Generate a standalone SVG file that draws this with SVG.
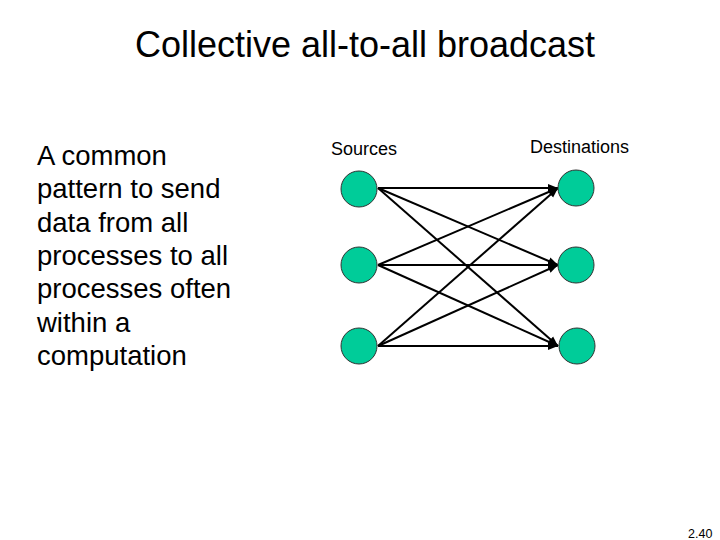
<svg xmlns="http://www.w3.org/2000/svg" width="720" height="540" viewBox="0 0 720 540">
<style>
text{font-family:"Liberation Sans",Arial,sans-serif;fill:#000}
.node{fill:#00cc99;stroke:#333;stroke-width:1}
.c line{stroke:#000;stroke-width:2;marker-end:url(#ah)}
</style>
<defs>
<marker id="ah" viewBox="0 0 10 10" refX="10" refY="5" markerWidth="5" markerHeight="5" markerUnits="strokeWidth" orient="auto">
<path d="M0,1 L10,5 L0,9 z" fill="#000"/>
</marker>
</defs>
<rect width="720" height="540" fill="#fff"/>
<text x="365" y="57" font-size="36" text-anchor="middle">Collective all-to-all broadcast</text>
<g id="desc">
<text x="37" y="165" font-size="27.5">A common</text>
<text x="37" y="198" font-size="27.5">pattern to send</text>
<text x="37" y="232" font-size="27.5">data from all</text>
<text x="37" y="265" font-size="27.5">processes to all</text>
<text x="37" y="298" font-size="27.5">processes often</text>
<text x="37" y="332" font-size="27.5">within a</text>
<text x="37" y="365" font-size="27.5">computation</text>
</g>
<text x="331" y="155" font-size="18">Sources</text>
<text x="530" y="153" font-size="18">Destinations</text>
<g class="c" id="connectors">
<line x1="378" y1="188" x2="558" y2="188"/>
<line x1="378" y1="188" x2="558" y2="265"/>
<line x1="378" y1="188" x2="558" y2="346"/>
<line x1="378" y1="265" x2="558" y2="188"/>
<line x1="378" y1="265" x2="558" y2="265"/>
<line x1="378" y1="265" x2="558" y2="346"/>
<line x1="378" y1="346" x2="558" y2="188"/>
<line x1="378" y1="346" x2="558" y2="265"/>
<line x1="378" y1="346" x2="558" y2="346"/>
</g>
<g id="s1"><circle class="node" cx="359" cy="189" r="18"/></g>
<g id="s2"><circle class="node" cx="359" cy="265" r="18"/></g>
<g id="s3"><circle class="node" cx="359" cy="346" r="18"/></g>
<g id="d1"><circle class="node" cx="576" cy="188" r="18"/></g>
<g id="d2"><circle class="node" cx="576" cy="265" r="18"/></g>
<g id="d3"><circle class="node" cx="577" cy="346" r="18"/></g>
<text x="688" y="538" font-size="12.5">2.40</text>
</svg>
